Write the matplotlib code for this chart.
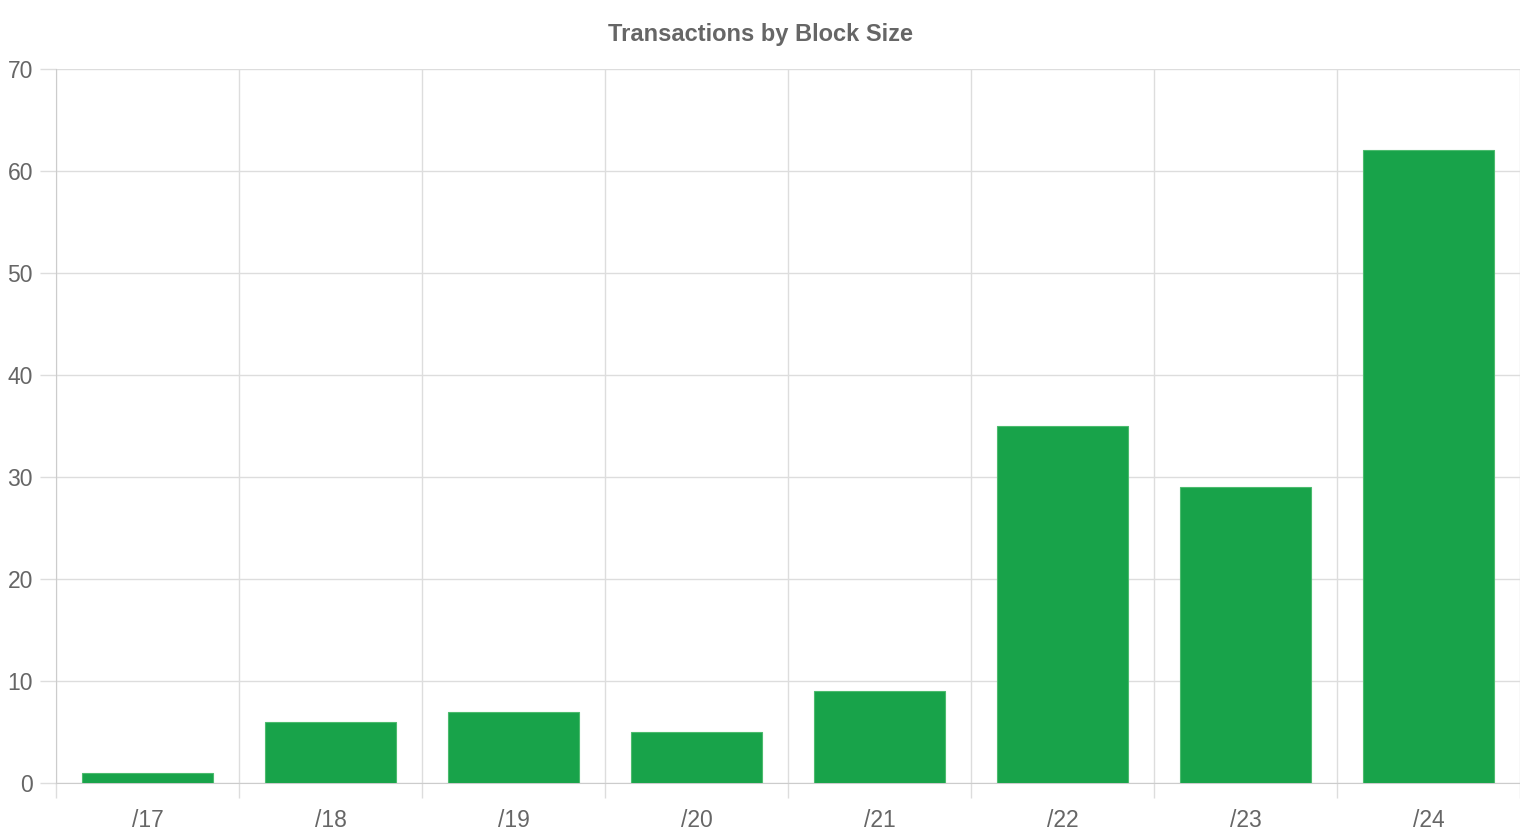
import matplotlib
matplotlib.use("Agg")
import matplotlib.pyplot as plt
import numpy as np

categories = ["/17", "/18", "/19", "/20", "/21", "/22", "/23", "/24"]
values = [1, 6, 7, 5, 9, 35, 29, 62]
yticks = [0, 10, 20, 30, 40, 50, 60, 70]

plt.rcParams['font.family'] = ['Liberation Sans', 'DejaVu Sans']

fig = plt.figure(figsize=(15.2, 8.4), dpi=100)
ax = fig.add_axes([56/1520, 1 - 783/840, 1 - 56/1520, (783 - 68.5)/840])

x = np.arange(len(categories))
ax.bar(x, values, width=0.72, color="#18a34a", edgecolor="#4cbb6e", linewidth=0.8, zorder=3)

ax.set_xlim(-0.5, len(categories) - 0.5)
ax.set_ylim(0, 70)
ax.set_yticks(yticks)
ax.set_yticklabels([str(v) for v in yticks])
ax.set_xticks(x)
ax.set_xticklabels(categories)
ax.set_xticks(np.arange(-0.5, len(categories)), minor=True)

grid_c = "#dddddd"
ax.grid(axis="y", which="major", color=grid_c, linewidth=1, zorder=0)
ax.grid(axis="x", which="minor", color=grid_c, linewidth=1, zorder=0)
ax.grid(axis="x", which="major", visible=False)

ax.tick_params(axis="x", which="major", length=0, pad=18.5, labelsize=16.5, labelcolor="#666666")
ax.tick_params(axis="x", which="minor", length=10.8, color=grid_c, width=1)
ax.tick_params(axis="y", which="major", length=11.5, color=grid_c, width=1, pad=5,
               labelsize=16.5, labelcolor="#666666")

for s in ["top", "right"]:
    ax.spines[s].set_visible(False)
ax.spines["left"].set_color("#cccccc")
ax.spines["bottom"].set_color("#cccccc")

fig.text(0.5, 1 - 35/840, "Transactions by Block Size", ha="center", va="center",
         fontsize=17, fontweight="bold", color="#666666")

fig.savefig("out.png", dpi=100)
